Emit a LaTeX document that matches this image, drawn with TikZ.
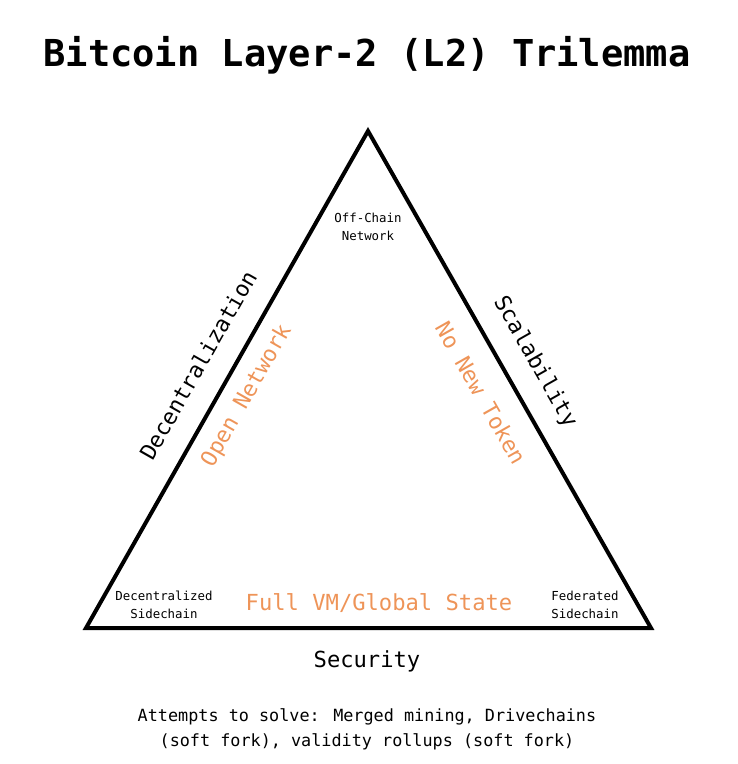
\documentclass[tikz,border=0pt]{standalone}
\usepackage{fontspec}
\setmainfont{DejaVu Sans Mono}
\definecolor{trorange}{RGB}{238,148,88}

\tikzset{every picture/.style={line width=0.75pt}}
\tikzset{
  cornerlbl/.style={inner sep=0.75pt, align=center, font=\fontsize{9.3}{14}\selectfont},
  sidelbl/.style={inner sep=0.75pt, font=\fontsize{16.6}{20}\selectfont},
  innerlbl/.style={sidelbl, text=trorange},
}

\begin{document}
\begin{tikzpicture}[x=0.75pt,y=0.75pt,yscale=-1,xscale=1]
        \useasboundingbox (0,0) rectangle (738,764);

        % Triangle corners
        \coordinate (top) at (368,131);
        \coordinate (bl) at (86,628);
        \coordinate (br) at (651,628);
        %Shape: Triangle
        \draw [line width=3pt, line join=miter] (top) -- (br) -- (bl) -- cycle ;

        % Title
        \node (title) at (367,55) [inner sep=0.75pt] {\fontsize{27.8}{32}\selectfont\bfseries Bitcoin Layer-2 (L2) Trilemma};

        % Corner Text Nodes
        \node (offchain) at (368,227) [cornerlbl] {Off-Chain\\Network};
        \node (decside) at (164,605) [cornerlbl] {Decentralized\\Sidechain};
        \node (fedside) at (585,605) [cornerlbl] {Federated\\Sidechain};

        % Side Text Nodes
        \node (decent) at (198,365) [sidelbl, rotate=60.4] {Decentralization};
        \node (scal) at (535,362) [sidelbl, rotate=-60.4] {Scalability};
        \node (secur) at (367,661) [sidelbl] {Security};

        % Inner Text Nodes
        \node (opennet) at (247,396) [innerlbl, rotate=60.4] {Open Network};
        \node (notoken) at (481,393) [innerlbl, rotate=-60.4] {No New Token};
        \node (fullvm) at (379,603) [innerlbl] {Full VM/Global State};

        % Note
        \node (note) at (367,729) [inner sep=0.75pt, align=center, font=\fontsize{12.6}{18.8}\selectfont] {Attempts to solve: Merged mining, Drivechains\\(soft fork), validity rollups (soft fork)};

\end{tikzpicture}
\end{document}
